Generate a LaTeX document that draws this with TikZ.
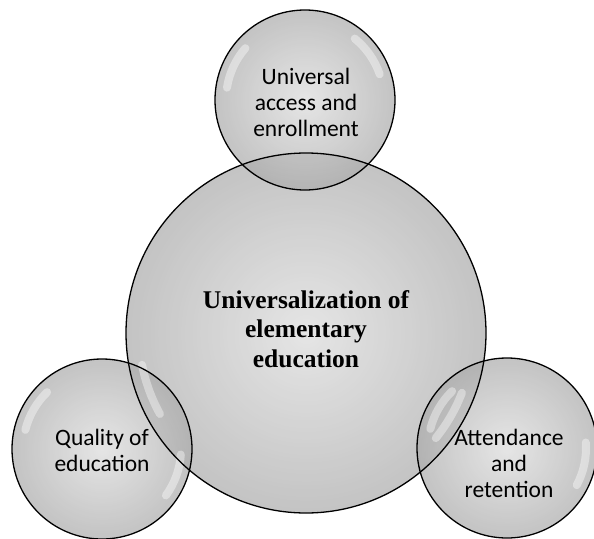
\documentclass[tikz,border=0pt]{standalone}
\usepackage{fontspec}
\setmainfont{Liberation Serif}
\newfontfamily\calibfont{Carlito}
\begin{document}
\begin{tikzpicture}[x=1pt,y=-1pt,
  bubble/.style={circle, inner sep=0pt, shade, inner color=gray!28, outer color=gray!65, fill opacity=0.72},
  rim/.style={draw=black, line width=1.3pt},
  gloss/.style={draw=white, line width=8pt, line cap=round, opacity=0.4},
  smalltext/.style={font=\calibfont\fontsize{23.5}{26}\selectfont, align=center, text=black},
  bigtext/.style={font=\bfseries\fontsize{25.5}{29.5}\selectfont, align=center, text=black}]
\useasboundingbox (0,0) rectangle (594,538);
\node[bubble, minimum size=360pt] (ce) at (306,333) {};
\node[bubble, minimum size=180pt] (tp) at (305,100) {};
\node[bubble, minimum size=180pt] (lf) at (102,449) {};
\node[bubble, minimum size=180pt] (rt) at (507,448) {};
% glossy highlights
\foreach \n/\a in {tp/155, tp/35, lf/150, lf/-20, rt/150, rt/-12}
  \draw[gloss] ([shift={(\a-16:79pt)}]\n.center) arc[start angle=\a-16, end angle=\a+16, radius=79pt];
\foreach \a in {200, 330}
  \draw[gloss] ([shift={(\a-9:167pt)}]ce.center) arc[start angle=\a-9, end angle=\a+9, radius=167pt];
\draw[rim] (ce.center) circle[radius=180pt];
\draw[rim] (tp.center) circle[radius=90pt];
\draw[rim] (lf.center) circle[radius=90pt];
\draw[rim] (rt.center) circle[radius=90pt];
\node[bigtext] (cet) at (306,329) {Universalization of\\elementary\\education};
\node[smalltext] (tpt) at (306,102) {Universal\\access and\\enrollment};
\node[smalltext] (lft) at (102,450) {Quality of\\education};
\node[smalltext] (rtt) at (509,463) {Attendance\\and\\retention};
\end{tikzpicture}
\end{document}
